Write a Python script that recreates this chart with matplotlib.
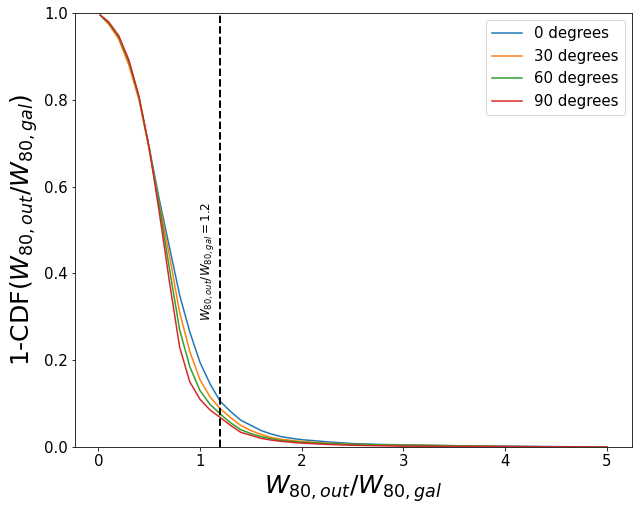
import numpy as np
import matplotlib.pyplot as plt

# W80 ratio grid
x = [0.02, 0.1, 0.2, 0.3, 0.4, 0.5, 0.6, 0.7, 0.8, 0.9, 1.0, 1.1, 1.2, 1.3, 1.4,
     1.5, 1.6, 1.7, 1.8, 1.9, 2.0, 2.25, 2.5, 2.75, 3.0, 3.5, 4.0, 4.5, 5.0]

# 1-CDF for each viewing angle
cdf_0 = [0.995, 0.975, 0.945, 0.89, 0.805, 0.69, 0.57, 0.46, 0.35, 0.265, 0.195, 0.145,
         0.105, 0.082, 0.062, 0.05, 0.038, 0.03, 0.024, 0.02, 0.017, 0.012, 0.008,
         0.006, 0.005, 0.003, 0.002, 0.001, 0.0]
cdf_30 = [0.995, 0.975, 0.94, 0.88, 0.80, 0.685, 0.56, 0.44, 0.31, 0.22, 0.155, 0.115,
          0.088, 0.068, 0.05, 0.038, 0.029, 0.022, 0.018, 0.015, 0.013, 0.009, 0.006,
          0.005, 0.004, 0.003, 0.001, 0.0005, 0.0]
cdf_60 = [0.995, 0.978, 0.945, 0.888, 0.805, 0.69, 0.555, 0.41, 0.27, 0.185, 0.13, 0.098,
          0.076, 0.056, 0.04, 0.031, 0.024, 0.019, 0.015, 0.013, 0.011, 0.008, 0.006,
          0.005, 0.004, 0.003, 0.001, 0.0005, 0.0]
cdf_90 = [0.995, 0.98, 0.948, 0.892, 0.808, 0.69, 0.54, 0.38, 0.23, 0.15, 0.11, 0.085,
          0.068, 0.05, 0.034, 0.027, 0.02, 0.016, 0.013, 0.011, 0.009, 0.006, 0.004,
          0.003, 0.002, 0.0015, 0.001, 0.0005, 0.0]

labels = ['0 degrees', '30 degrees', '60 degrees', '90 degrees']
threshold = 1.2

fig = plt.figure(figsize=(638 / 72, 511 / 72), dpi=72)
ax = fig.add_axes([0.1176, 0.1252, 0.873, 0.8494])

for y, lab in zip([cdf_0, cdf_30, cdf_60, cdf_90], labels):
    ax.plot(x, y, label=lab)

ax.axvline(threshold, color='k', linestyle='--', linewidth=2)
ax.text(1.07, 0.29, r'$W_{80,out}/W_{80,gal}=1.2$', rotation=90,
        fontsize=12, ha='center', va='bottom')

ax.set_ylim(0, 1)
ax.set_xlabel(r'$W_{80,out}/W_{80,gal}$', fontsize=25)
ax.set_ylabel(r'1-CDF($W_{80,out}/W_{80,gal}$)', fontsize=25)
ax.tick_params(labelsize=15)
ax.legend(fontsize=15, loc='upper right')

fig.savefig('out.png', dpi=72)
